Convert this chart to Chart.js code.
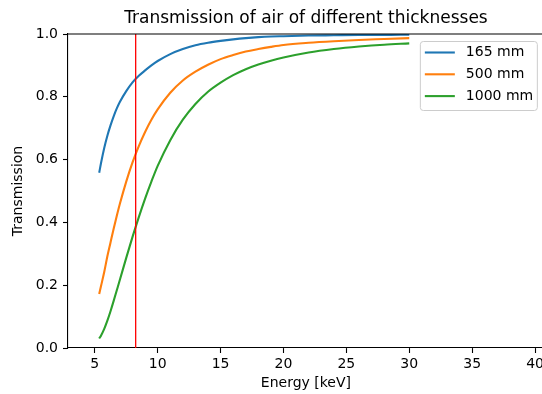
<!DOCTYPE html>
<html>
<head>
<meta charset="utf-8">
<title>Transmission of air</title>
<script src="https://cdn.jsdelivr.net/npm/chart.js@4.4.1/dist/chart.umd.min.js"></script>
<style>
  html, body { margin: 0; padding: 0; background: #fff; overflow: hidden; }
  canvas { display: block; }
</style>
</head>
<body>
<canvas id="grafico" width="547" height="394"></canvas>
<script>
// energia em keV
const energia = [5.35, 5.5, 5.75, 6, 6.25, 6.5, 6.75, 7, 7.5, 8, 8.5, 9, 9.5, 10, 11, 12, 13, 14, 15, 16, 17, 18, 19, 20, 22, 24, 26, 28, 30];

// transmissão para cada espessura de ar
const trans165 = [0.558, 0.590, 0.637, 0.676, 0.709, 0.738, 0.763, 0.784, 0.818, 0.846, 0.867, 0.884, 0.900, 0.914, 0.936, 0.952, 0.964, 0.972, 0.978, 0.983, 0.987, 0.990, 0.992, 0.993, 0.995, 0.996, 0.997, 0.997, 0.998];
const trans500 = [0.172, 0.198, 0.242, 0.292, 0.336, 0.380, 0.421, 0.460, 0.530, 0.591, 0.643, 0.688, 0.727, 0.760, 0.813, 0.852, 0.880, 0.902, 0.920, 0.933, 0.944, 0.952, 0.959, 0.965, 0.972, 0.977, 0.981, 0.984, 0.987];
const trans1000 = [0.030, 0.040, 0.061, 0.087, 0.117, 0.150, 0.184, 0.218, 0.287, 0.354, 0.417, 0.476, 0.530, 0.580, 0.662, 0.727, 0.777, 0.816, 0.845, 0.869, 0.888, 0.903, 0.915, 0.925, 0.941, 0.952, 0.960, 0.966, 0.970];

const espessuras = ["165 mm", "500 mm", "1000 mm"];
const energiaLinha = 8.25;

const xTicks = [5, 10, 15, 20, 25, 30, 35, 40];
const yTicks = [0, 0.2, 0.4, 0.6, 0.8, 1.0];

const fonte = "'DejaVu Sans', sans-serif";

function pontos(ys) {
  return energia.map((e, i) => ({ x: e, y: ys[i] }));
}

function serie(label, ys, cor) {
  return {
    label: label,
    data: pontos(ys),
    borderColor: cor,
    backgroundColor: cor,
    borderWidth: 2.1,
    pointRadius: 0,
    cubicInterpolationMode: "monotone",
    order: 1
  };
}

// borda de cima e legenda dentro do gráfico
const molduraLegenda = {
  id: "molduraLegenda",
  afterDraw(chart) {
    const { ctx, chartArea } = chart;
    ctx.save();
    ctx.strokeStyle = "#000";
    ctx.lineWidth = 1.1;
    ctx.beginPath();
    ctx.moveTo(chartArea.left, chartArea.top);
    ctx.lineTo(chartArea.right, chartArea.top);
    ctx.stroke();

    const x0 = chartArea.right - 124, y0 = chartArea.top + 7, w = 117, h = 69;
    ctx.fillStyle = "rgba(255,255,255,0.8)";
    ctx.strokeStyle = "#cccccc";
    ctx.lineWidth = 1;
    ctx.beginPath();
    ctx.roundRect(x0 + 0.5, y0 + 0.5, w, h, 3);
    ctx.fill();
    ctx.stroke();

    ctx.font = "14px " + fonte;
    ctx.textBaseline = "middle";
    ctx.textAlign = "left";
    chart.data.datasets.filter(d => d.label).forEach((d, i) => {
      const y = y0 + 11.5 + i * 21.8;
      ctx.strokeStyle = d.borderColor;
      ctx.lineWidth = 2.1;
      ctx.beginPath();
      ctx.moveTo(x0 + 5, y);
      ctx.lineTo(x0 + 35, y);
      ctx.stroke();
      ctx.fillStyle = "#000";
      ctx.fillText(d.label, x0 + 46, y);
    });
    ctx.restore();
  }
};

const ctx = document.getElementById("grafico").getContext("2d");
new Chart(ctx, {
  type: "line",
  data: {
    datasets: [
      serie(espessuras[0], trans165, "#1f77b4"),
      serie(espessuras[1], trans500, "#ff7f0e"),
      serie(espessuras[2], trans1000, "#2ca02c"),
      {
        label: "",
        data: [{ x: energiaLinha, y: 0 }, { x: energiaLinha, y: 1 }],
        borderColor: "#ff0000",
        borderWidth: 1.3,
        pointRadius: 0,
        order: 0
      }
    ]
  },
  options: {
    responsive: false,
    animation: false,
    layout: { padding: 0, autoPadding: false },
    plugins: {
      legend: { display: false },
      tooltip: { enabled: false },
      title: {
        display: true,
        fullSize: false,
        text: "Transmission of air of different thicknesses",
        color: "#000",
        font: { family: fonte, size: 17, weight: "normal" },
        padding: { top: 8, bottom: 5.6 }
      }
    },
    scales: {
      x: {
        type: "linear",
        min: 2.87,
        max: 40.7,
        afterBuildTicks: s => { s.ticks = xTicks.map(v => ({ value: v })); },
        afterFit: s => { s.height = 46; },
        ticks: {
          color: "#000",
          font: { family: fonte, size: 14 },
          padding: 3,
          maxRotation: 0,
          callback: v => String(v)
        },
        grid: { drawOnChartArea: false, tickLength: 5, tickColor: "#000", tickWidth: 1.1 },
        border: { color: "#000", width: 1.1 },
        title: {
          display: true,
          text: "Energy [keV]",
          color: "#000",
          font: { family: fonte, size: 14 },
          padding: { top: 0, bottom: 2 }
        }
      },
      y: {
        min: 0,
        max: 1,
        afterBuildTicks: s => { s.ticks = yTicks.map(v => ({ value: v })); },
        afterFit: s => { s.width = 68; },
        ticks: {
          color: "#000",
          font: { family: fonte, size: 14 },
          padding: 5,
          callback: v => v.toFixed(1)
        },
        grid: { drawOnChartArea: false, tickLength: 5, tickColor: "#000", tickWidth: 1.1 },
        border: { color: "#000", width: 1.1 },
        title: {
          display: true,
          text: "Transmission",
          color: "#000",
          font: { family: fonte, size: 14 },
          padding: { top: 9.6, bottom: 0 }
        }
      }
    }
  },
  plugins: [molduraLegenda]
});
</script>
</body>
</html>
